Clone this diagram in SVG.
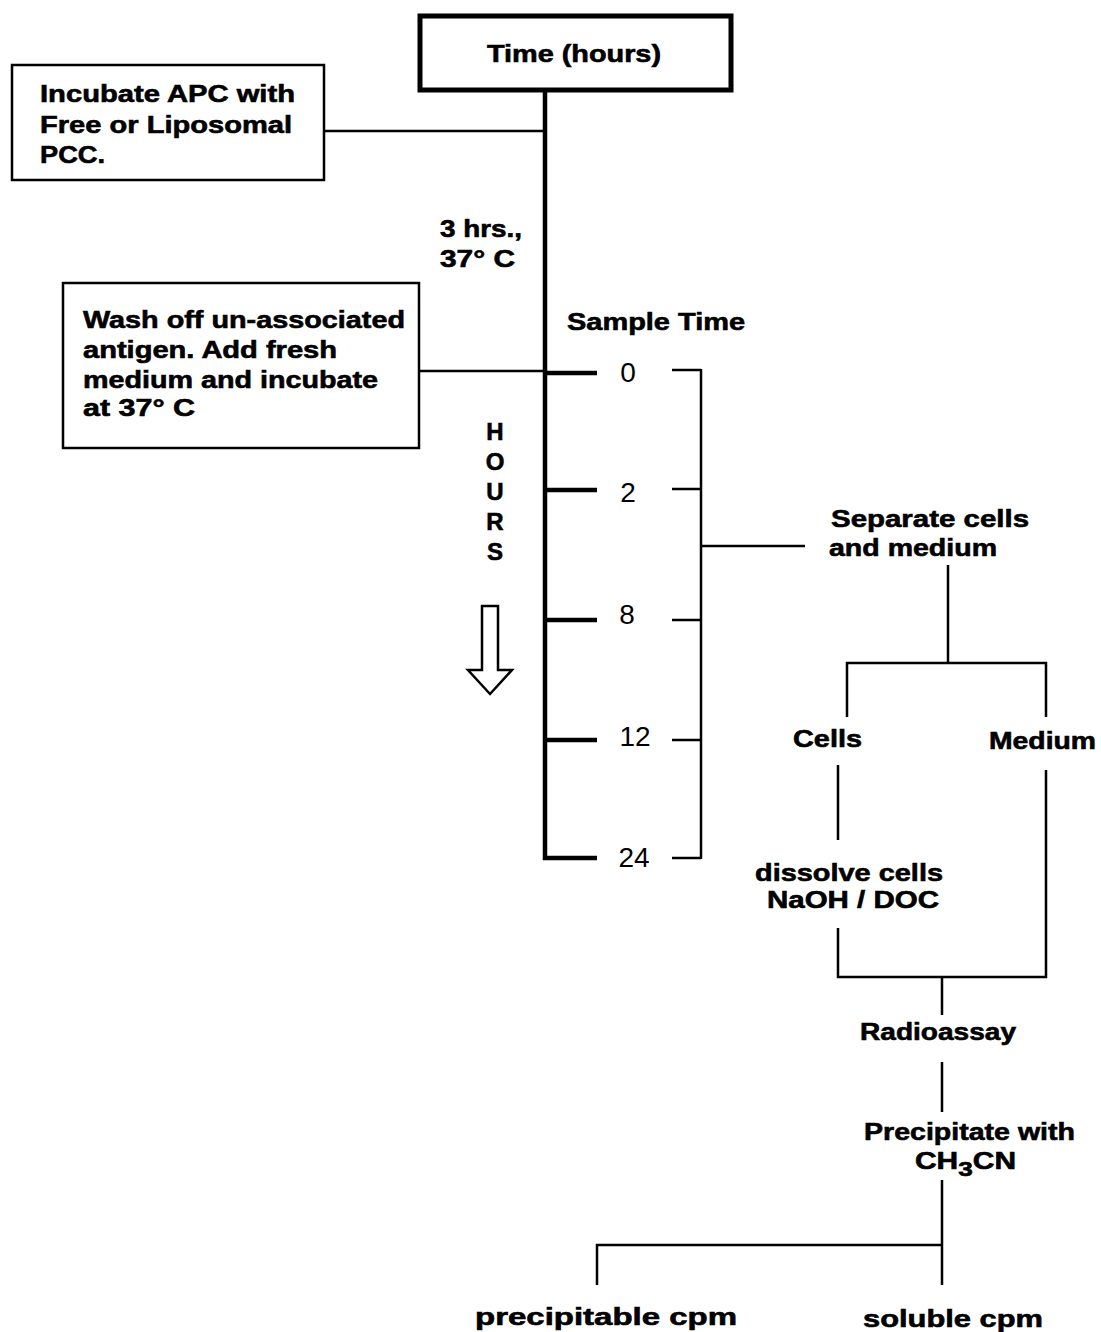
<svg xmlns="http://www.w3.org/2000/svg" width="1101" height="1332" viewBox="0 0 1101 1332">
<style>
.b{font-family:"Liberation Sans",Arial,sans-serif;font-weight:bold;font-size:24px;fill:#000;stroke:#000;stroke-width:0.6}
.n{font-family:"Liberation Sans",Arial,sans-serif;font-weight:normal;font-size:28px;fill:#000}
.box{fill:#fff;stroke:#000;stroke-width:2.5}
.thin{fill:none;stroke:#000;stroke-width:2.5}
.thick{fill:none;stroke:#000;stroke-width:4.5}
</style>
<rect width="1101" height="1332" fill="#fff"/>
<g id="connectors">
<path class="thick" d="M545,92 V858 H597"/>
<path class="thin" d="M324,131 H545"/>
<path class="thin" d="M420,371 H545"/>
<path class="thick" d="M545,373 H597 M545,490 H597 M545,620 H597 M545,740 H597"/>
<path class="thin" d="M672,370 H701 M672,489 H701 M672,620 H701 M672,740 H701 M672,858 H701 M701,369 V859 M701,546 H805"/>
<path class="thin" d="M948,565 V663 M847,717 V663 H1046 V717"/>
<path class="thin" d="M838,765 V840 M838,928 V977 H1046 V770 M942,977 V1015 M942,1062 V1112 M942,1180 V1285 M942,1245 H597 V1285"/>
<path d="M482,606 H498 V670 H512 L490,694 L468,670 H482 Z" fill="#fff" stroke="#000" stroke-width="2.5" stroke-linejoin="miter"/>
</g>
<g id="time">
<rect x="420" y="16" width="311" height="74" fill="#fff" stroke="#000" stroke-width="5"/>
<text class="b" x="574" y="62" text-anchor="middle" textLength="174" lengthAdjust="spacingAndGlyphs">Time (hours)</text>
</g>
<g id="incubate">
<rect class="box" x="12" y="65" width="312" height="115"/>
<text class="b" x="40" y="102" textLength="255" lengthAdjust="spacingAndGlyphs">Incubate APC with</text>
<text class="b" x="40" y="133" textLength="252" lengthAdjust="spacingAndGlyphs">Free or Liposomal</text>
<text class="b" x="40" y="163" textLength="65" lengthAdjust="spacingAndGlyphs">PCC.</text>
</g>
<g id="threehrs">
<text class="b" x="440" y="237" textLength="82" lengthAdjust="spacingAndGlyphs">3 hrs.,</text>
<text class="b" x="440" y="267" textLength="75" lengthAdjust="spacingAndGlyphs">37° C</text>
</g>
<g id="wash">
<rect class="box" x="63" y="283" width="356" height="165"/>
<text class="b" x="83" y="328" textLength="322" lengthAdjust="spacingAndGlyphs">Wash off un-associated</text>
<text class="b" x="83" y="358" textLength="254" lengthAdjust="spacingAndGlyphs">antigen. Add fresh</text>
<text class="b" x="83" y="388" textLength="295" lengthAdjust="spacingAndGlyphs">medium and incubate</text>
<text class="b" x="83" y="416" textLength="112" lengthAdjust="spacingAndGlyphs">at 37° C</text>
</g>
<g id="sampletime">
<text class="b" x="567" y="330" textLength="178" lengthAdjust="spacingAndGlyphs">Sample Time</text>
<text class="n" x="628" y="382" text-anchor="middle">0</text>
<text class="n" x="628" y="502" text-anchor="middle">2</text>
<text class="n" x="627" y="624" text-anchor="middle">8</text>
<text class="n" x="635" y="746" text-anchor="middle">12</text>
<text class="n" x="634" y="867" text-anchor="middle">24</text>
</g>
<g id="hours">
<text class="b" x="495" y="440" text-anchor="middle">H</text>
<text class="b" x="495" y="470" text-anchor="middle">O</text>
<text class="b" x="495" y="500" text-anchor="middle">U</text>
<text class="b" x="495" y="530" text-anchor="middle">R</text>
<text class="b" x="495" y="560" text-anchor="middle">S</text>
</g>
<g id="separate">
<text class="b" x="831" y="527" textLength="198" lengthAdjust="spacingAndGlyphs">Separate cells</text>
<text class="b" x="829" y="556" textLength="168" lengthAdjust="spacingAndGlyphs">and medium</text>
</g>
<g id="cells"><text class="b" x="793" y="747" textLength="69" lengthAdjust="spacingAndGlyphs">Cells</text></g>
<g id="medium"><text class="b" x="989" y="749" textLength="107" lengthAdjust="spacingAndGlyphs">Medium</text></g>
<g id="dissolve">
<text class="b" x="755" y="881" textLength="188" lengthAdjust="spacingAndGlyphs">dissolve cells</text>
<text class="b" x="767" y="908" textLength="172" lengthAdjust="spacingAndGlyphs">NaOH / DOC</text>
</g>
<g id="radioassay"><text class="b" x="860" y="1040" textLength="156" lengthAdjust="spacingAndGlyphs">Radioassay</text></g>
<g id="precipitate">
<text class="b" x="864" y="1140" textLength="211" lengthAdjust="spacingAndGlyphs">Precipitate with</text>
<text class="b" x="915" y="1169" font-size="27" textLength="101" lengthAdjust="spacingAndGlyphs">CH<tspan font-size="21" dy="7">3</tspan><tspan dy="-7">CN</tspan></text>
</g>
<g id="precipitable"><text class="b" x="475" y="1325" textLength="262" lengthAdjust="spacingAndGlyphs">precipitable cpm</text></g>
<g id="soluble"><text class="b" x="863" y="1327" textLength="180" lengthAdjust="spacingAndGlyphs">soluble cpm</text></g>
</svg>
